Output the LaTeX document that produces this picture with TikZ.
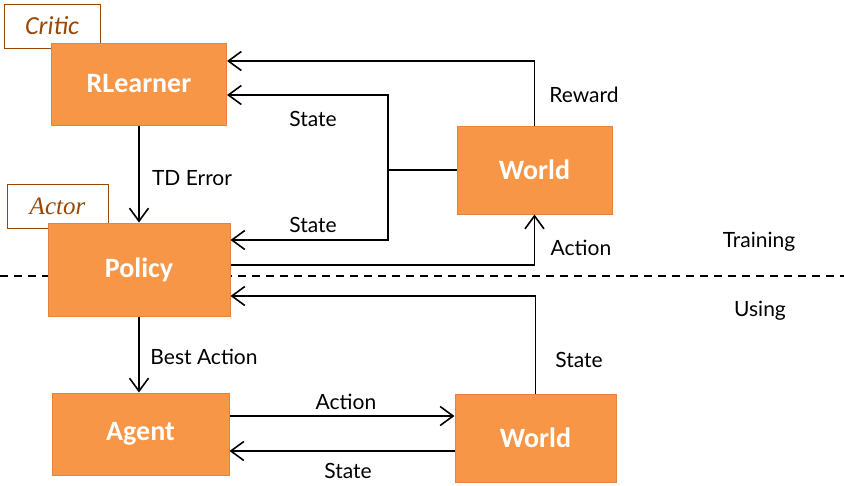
\documentclass[tikz,border=0pt]{standalone}
\usepackage{fontspec}
\setmainfont{Carlito}
\newfontfamily\hand{Lato}
\newfontfamily\serifit{Liberation Serif}
\usetikzlibrary{arrows.meta}
\definecolor{boxfill}{HTML}{F79646}
\definecolor{boxedge}{HTML}{E0843E}
\definecolor{tagbrown}{HTML}{984806}
\tikzset{
  blk/.style={draw=boxedge, line width=1pt, fill=boxfill, text=white, font=\fontsize{28}{30}\selectfont\bfseries, inner sep=0pt},
  tagbox/.style={draw=tagbrown, line width=0.8pt, fill=white, text=tagbrown, inner sep=0pt},
  lbl/.style={font=\hand\fontsize{21}{24}\selectfont, text=black, inner sep=0pt},
  arr/.style={line width=1.6pt, -{Straight Barb[length=13pt,width=19pt,line width=1.6pt]}},
  conn/.style={line width=1.6pt},
}
\begin{document}
\begin{tikzpicture}[x=1pt,y=-1pt]
\useasboundingbox (0,0) rectangle (844,485);
% divider
\coordinate (dl) at (0,276);
\coordinate (dr) at (844,276);
\draw[line width=1.2pt, dash pattern=on 8pt off 6pt] (dl) -- (dr);
% tag boxes
\node[tagbox, minimum width=96, minimum height=44] (critic) at (52,26) {\fontsize{26}{28}\selectfont\itshape Critic};
\node[tagbox, minimum width=101, minimum height=44] (actor) at (57.5,206) {\serifit\fontsize{25}{27}\selectfont\itshape Actor};
% main blocks
\node[blk, minimum width=175, minimum height=82] (rl) at (139,84) {RLearner};
\node[blk, minimum width=182, minimum height=93] (pol) at (139,269.5) {Policy};
\node[blk, minimum width=155, minimum height=88] (wt) at (534.5,170) {World};
\node[blk, minimum width=177, minimum height=82] (ag) at (140.5,434) {Agent};
\node[blk, minimum width=161, minimum height=88] (wb) at (535.5,438) {World};
% helper coordinates
\coordinate (rY) at (0,61);
\coordinate (s1Y) at (0,95);
\coordinate (jx) at (388,0);
\coordinate (s2Y) at (0,240);
\coordinate (aY) at (0,265);
\coordinate (uY) at (0,296);
\coordinate (a2Y) at (0,416);
\coordinate (s3Y) at (0,451);
% connectors (training)
\draw[arr] (wt.north) |- (rl.east |- rY);
\draw[conn] (wt.west) -- (jx |- wt.west);
\draw[arr] (jx |- wt.west) |- (rl.east |- s1Y);
\draw[arr] (jx |- wt.west) |- (pol.east |- s2Y);
\draw[arr] (pol.east |- aY) -| (wt.south);
\draw[arr] (rl.south) -- (rl.south |- pol.north);
% connectors (using)
\draw[arr] (pol.south) -- (pol.south |- ag.north);
\draw[arr] (wb.north) |- (pol.east |- uY);
\draw[arr] (ag.east |- a2Y) -- (wb.west |- a2Y);
\draw[arr] (wb.west |- s3Y) -- (ag.east |- s3Y);
% labels
\node[lbl] (lrew) at (584,95) {Reward};
\node[lbl] (ls1) at (313,119) {State};
\node[lbl] (ls2) at (313,225) {State};
\node[lbl] (ltd) at (192,178) {TD Error};
\node[lbl] (lact) at (581,248) {Action};
\node[lbl] (ltrain) at (759,242) {Training};
\node[lbl] (luse) at (760,311) {Using};
\node[lbl] (lbest) at (204,357) {Best Action};
\node[lbl] (ls3) at (579,360) {State};
\node[lbl] (lact2) at (346,402) {Action};
\node[lbl] (ls4) at (348,471) {State};
\end{tikzpicture}
\end{document}
